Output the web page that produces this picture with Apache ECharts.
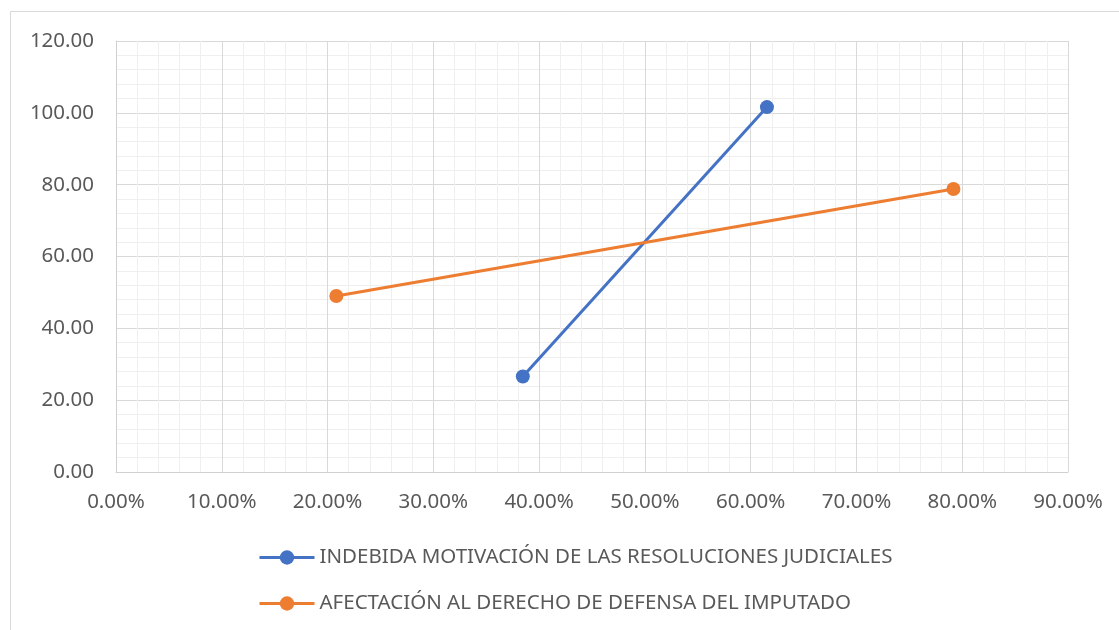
<!DOCTYPE html>
<html>
<head>
<meta charset="utf-8">
<script src="https://cdn.jsdelivr.net/npm/echarts@6/dist/echarts.min.js"></script>
<style>
  html, body { margin: 0; padding: 0; background: #fff; }
</style>
</head>
<body>
<div id="main" style="width: 1119px; height: 630px"></div>
<script>
// series names
const seriesNames = [
  "INDEBIDA MOTIVACIÓN DE LAS RESOLUCIONES JUDICIALES",
  "AFECTACIÓN AL DERECHO DE DEFENSA DEL IMPUTADO",
];
// x values are shares (0..1), y values plain numbers
const motivacionX = [0.3846, 0.6154];
const motivacionY = [26.6, 101.6];
const defensaX = [0.2083, 0.7917];
const defensaY = [49.0, 78.8];

const fontFam = "'Noto Sans', 'Open Sans', sans-serif";
const labelColor = "#595959";

let chartMain = echarts.init(document.getElementById("main"));
let option = {
  animation: false,
  color: ["#4472C4", "#ED7D31"],
  graphic: [
    {
      type: "rect",
      shape: { x: 10.5, y: 11.5, width: 1130, height: 640 },
      style: { fill: "none", stroke: "#d9d9d9", lineWidth: 1 },
      silent: true,
    },
  ],
  grid: {
    left: 116,
    right: 51,
    top: 41,
    bottom: 158,
  },
  legend: {
    orient: "vertical",
    left: 253,
    top: 542,
    itemWidth: 55,
    itemHeight: 18,
    itemGap: 25,
    lineStyle: { width: 3 },
    textStyle: {
      fontFamily: fontFam,
      fontSize: 20.5,
      color: labelColor,
    },
    data: seriesNames,
  },
  xAxis: {
    type: "value",
    min: 0,
    max: 0.9,
    interval: 0.1,
    axisLine: { show: true, lineStyle: { color: "#d0d0d0" } },
    axisTick: { show: false },
    axisLabel: {
      margin: 20,
      fontFamily: fontFam,
      fontSize: 20.5,
      color: labelColor,
      formatter: function (v) {
        return (v * 100).toFixed(2) + "%";
      },
    },
    splitLine: { show: true, lineStyle: { color: "#d9d9d9" } },
    minorTick: { show: false, splitNumber: 5 },
    minorSplitLine: { show: true, lineStyle: { color: "#efefef" } },
  },
  yAxis: {
    type: "value",
    min: 0,
    max: 120,
    interval: 20,
    axisLine: { show: true, lineStyle: { color: "#d0d0d0" } },
    axisTick: { show: false },
    axisLabel: {
      margin: 22,
      fontFamily: fontFam,
      fontSize: 20.5,
      color: labelColor,
      formatter: function (v) {
        return v.toFixed(2);
      },
    },
    splitLine: { show: true, lineStyle: { color: "#d9d9d9" } },
    minorTick: { show: false, splitNumber: 5 },
    minorSplitLine: { show: true, lineStyle: { color: "#efefef" } },
  },
  series: [
    {
      name: seriesNames[0],
      type: "line",
      data: motivacionX.map((x, i) => [x, motivacionY[i]]),
      symbol: "circle",
      symbolSize: 14,
      lineStyle: { width: 3 },
    },
    {
      name: seriesNames[1],
      type: "line",
      data: defensaX.map((x, i) => [x, defensaY[i]]),
      symbol: "circle",
      symbolSize: 14,
      lineStyle: { width: 3 },
    },
  ],
};
chartMain && chartMain.setOption(option);
</script>
</body>
</html>
